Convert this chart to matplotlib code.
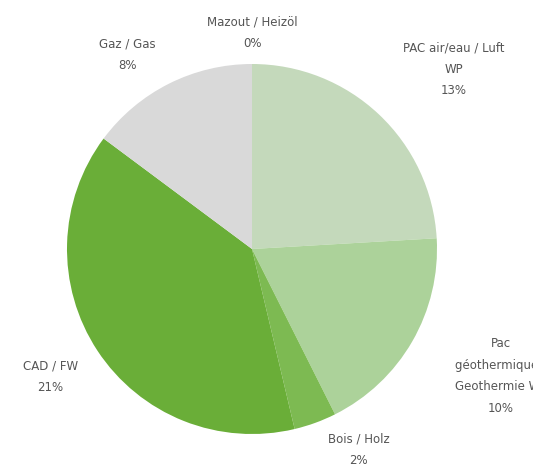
import numpy as np
import matplotlib
matplotlib.use("Agg")
import matplotlib.pyplot as plt

# Data (clockwise from top)
labels = ["Mazout / Heizöl", "PAC air/eau / Luft\nWP", "Pac\ngéothermique /\nGeothermie WP",
          "Bois / Holz", "CAD / FW", "Gaz / Gas"]
values = [0, 13, 10, 2, 21, 8]
colors = ["#8c8c8c", "#c4d9bb", "#acd29a", "#7dba52", "#6aae38", "#d9d9d9"]

# label distance (in radii) and angular nudge for each slice, like the best-fit labels
label_dist = [1.17, 1.46, 1.51, 1.23, 1.29, 1.25]
label_shift = [0, -5, 3, 8, -1, 6]  # degrees

fig = plt.figure(figsize=(5.33, 4.72), dpi=100)
R = 185
cx, cy = 252, 249
ax = fig.add_axes([(cx - R) / 533, (472 - cy - R) / 472, 2 * R / 533, 2 * R / 472])

wedges, _ = ax.pie(values, colors=colors, startangle=90, counterclock=False,
                   radius=1, wedgeprops=dict(linewidth=0))
ax.set_xlim(-1, 1)
ax.set_ylim(-1, 1)
ax.set_aspect("equal")
ax.axis("off")

for w, lab, v, d, s in zip(wedges, labels, values, label_dist, label_shift):
    ang = np.deg2rad((w.theta1 + w.theta2) / 2 + s)
    ax.text(d * np.cos(ang), d * np.sin(ang), f"{lab}\n{v}%", ha="center", va="center",
            fontsize=8.5, color="#555555", family="DejaVu Sans", linespacing=1.85)

plt.savefig("out.png", dpi=100)
